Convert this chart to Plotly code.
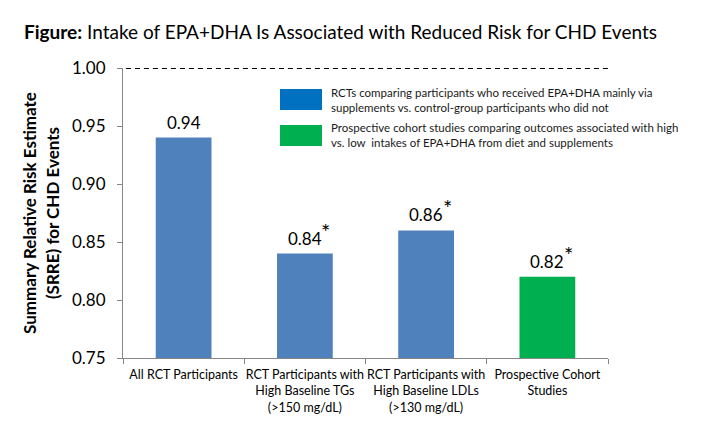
import plotly.graph_objects as go

# chart data
categories = [
    "All RCT Participants",
    "RCT Participants with<br>High Baseline TGs<br>(>150 mg/dL)",
    "RCT Participants with<br>High Baseline LDLs<br>(>130 mg/dL)",
    "Prospective Cohort<br>Studies",
]
srre = [0.94, 0.84, 0.86, 0.82]
significant = [False, True, True, True]
bar_colors = ["#4F81BD", "#4F81BD", "#4F81BD", "#00B050"]

legend_labels = [
    "RCTs comparing participants who received EPA+DHA mainly via<br>supplements vs. control-group participants who did not",
    "Prospective cohort studies comparing outcomes associated with high<br>vs. low  intakes of EPA+DHA from diet and supplements",
]
legend_colors = ["#0070C0", "#00B050"]

font_name = "Lato"

fig = go.Figure()
fig.add_trace(go.Bar(
    x=categories,
    y=srre,
    marker=dict(color=bar_colors, line=dict(width=0)),
    width=0.46,
    hoverinfo="x+y",
))

# value labels above each bar (asterisk = significant)
for cat, val, sig in zip(categories, srre, significant):
    fig.add_annotation(x=cat, y=val, text=f"{val:.2f}", showarrow=False,
                       yanchor="bottom", yshift=3,
                       font=dict(family=font_name, size=17, color="black"))
    if sig:
        fig.add_annotation(x=cat, y=val, text="*", showarrow=False,
                           yanchor="bottom", xshift=21, yshift=7,
                           font=dict(family=font_name, size=22, color="black"))

# reference line at 1.00
fig.add_shape(type="line", xref="paper", yref="y", x0=0.006, x1=1, y0=1.0, y1=1.0,
              line=dict(color="black", width=1.8, dash="5px,4px"))

# hand made legend
for i, (lab, col) in enumerate(zip(legend_labels, legend_colors)):
    top = 81 + i * 36
    fig.add_shape(type="rect", xref="paper", yref="paper",
                  x0=(272 - 115) / 485, x1=(314 - 115) / 485,
                  y0=(350 - top - 21) / 290, y1=(350 - top) / 290,
                  line=dict(width=0), fillcolor=col)
    fig.add_annotation(xref="paper", yref="paper",
                       x=(321 - 115) / 485, y=(350 - top - 10.5) / 290,
                       text=lab, showarrow=False, xanchor="left", yanchor="middle",
                       align="left",
                       font=dict(family=font_name, size=11.5, color="#1a1a1a"))

fig.update_layout(
    width=718,
    height=427,
    margin=dict(l=115, r=118, t=60, b=77, autoexpand=False),
    plot_bgcolor="white",
    paper_bgcolor="white",
    showlegend=False,
    font=dict(family=font_name, color="black"),
    title=dict(
        text="<b>Figure:</b> Intake of EPA+DHA Is Associated with Reduced Risk for CHD Events",
        x=16 / 718, xanchor="left", y=1 - 24 / 427, yanchor="middle",
        pad=dict(l=0),
        font=dict(family=font_name, size=19, color="black"),
    ),
    bargap=0.54,
)
fig.update_yaxes(
    range=[0.75, 1.0],
    dtick=0.05,
    tickformat=".2f",
    showgrid=False,
    zeroline=False,
    showline=True,
    linecolor="#868686",
    linewidth=1,
    ticks="outside",
    ticklen=5,
    tickcolor="#868686",
    ticklabelstandoff=8,
    automargin=False,
    tickfont=dict(family=font_name, size=17, color="black"),
    title=dict(text="<b>Summary Relative Risk Estimate<br>(SRRE) for CHD Events</b>",
               font=dict(family=font_name, size=17, color="black"), standoff=8),
)
fig.update_xaxes(
    showgrid=False,
    showline=True,
    linecolor="#868686",
    linewidth=1,
    ticks="outside",
    tickson="boundaries",
    ticklen=5,
    tickcolor="#868686",
    tickangle=0,
    ticklabelstandoff=5,
    automargin=False,
    tickfont=dict(family=font_name, size=12.5, color="black"),
)

fig.write_html("out.html")
